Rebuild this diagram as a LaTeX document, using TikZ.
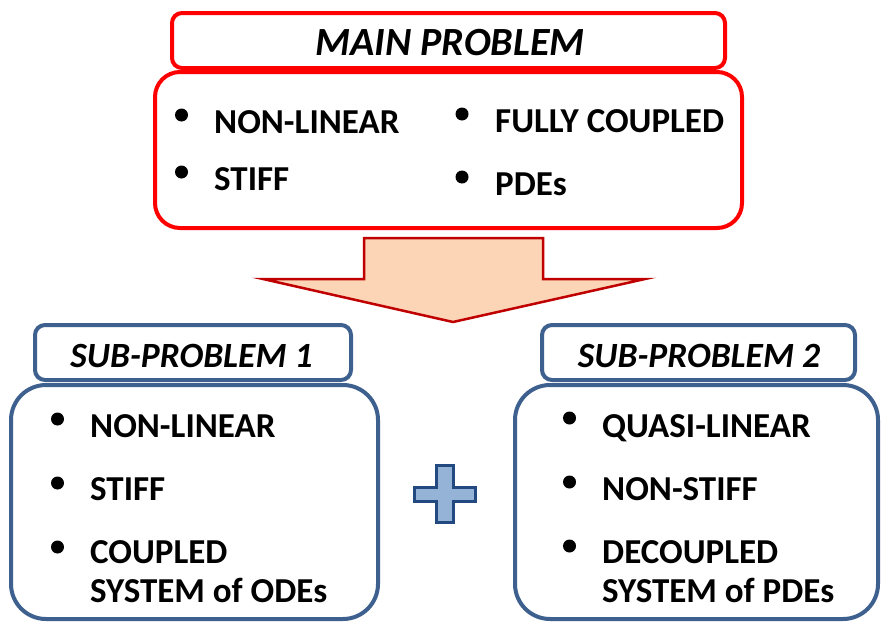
\documentclass[tikz,border=0pt]{standalone}
\usepackage{fontspec}
\setmainfont{Carlito}
\definecolor{mainred}{RGB}{255,0,0}
\definecolor{subblue}{RGB}{62,96,142}
\definecolor{arrowfill}{RGB}{251,213,181}
\definecolor{arrowline}{RGB}{192,0,0}
\definecolor{plusfill}{RGB}{149,179,215}
\definecolor{plusline}{RGB}{35,74,128}
\begin{document}
\begin{tikzpicture}[x=1pt,y=-1pt,
  redbox/.style={draw=mainred,line width=4pt,fill=white,inner sep=0pt},
  bluebox/.style={draw=subblue,line width=4pt,fill=white,inner sep=0pt},
  titletext/.style={font=\fontsize{35.5}{40}\selectfont\bfseries\itshape,inner sep=0pt,anchor=base},
  bigtitle/.style={titletext,font=\fontsize{40}{46}\selectfont\bfseries\itshape},
  itemtext/.style={font=\fontsize{35}{40}\selectfont\bfseries,inner sep=0pt,anchor=base west},
  dot/.style={circle,fill=black,inner sep=0pt,minimum size=13pt}
]
\useasboundingbox (0,0) rectangle (882,621);

% main problem: body first, title box on top
\node[redbox,rounded corners=25pt,minimum width=587pt,minimum height=156pt] (mainbody) at (448.5,150) {};
\node[redbox,rounded corners=10pt,minimum width=553pt,minimum height=55pt] (maintitle) at (448.5,40.5) {};
\node[bigtitle] (maintxt) at (450,55) {MAIN PROBLEM};

\node[dot] (mb1) at (181.5,115) {};
\node[itemtext] (mt1) at (214,133) {NON-LINEAR};
\node[dot] (mb2) at (181.5,172) {};
\node[itemtext] (mt2) at (214,190) {STIFF};
\node[dot] (mb3) at (462,114) {};
\node[itemtext] (mt3) at (495,132) {FULLY COUPLED};
\node[dot] (mb4) at (462,177) {};
\node[itemtext] (mt4) at (495,195) {PDEs};

% block arrow from the main problem down to the sub-problems
\draw[draw=arrowline,fill=arrowfill,line width=2.5pt,line join=miter]
  (364,238) -- (543,238) -- (543,279) -- (645,279) -- (453,322)
  -- (263,279) -- (364,279) -- cycle;

% sub-problem 1
\node[bluebox,rounded corners=35pt,minimum width=367pt,minimum height=234pt] (s1body) at (194.5,502) {};
\node[bluebox,rounded corners=10pt,minimum width=316pt,minimum height=55pt] (s1title) at (193,352.5) {};
\node[titletext] (s1txt) at (191.5,367) {SUB-PROBLEM 1};

\node[dot] (ab1) at (57.5,419) {};
\node[itemtext] (at1) at (90,437) {NON-LINEAR};
\node[dot] (ab2) at (57.5,483) {};
\node[itemtext] (at2) at (90,500) {STIFF};
\node[dot] (ab3) at (57.5,547) {};
\node[itemtext] (at3) at (90,563) {COUPLED};
\node[itemtext] (at4) at (90,602) {SYSTEM of ODEs};

% sub-problem 2
\node[bluebox,rounded corners=35pt,minimum width=363pt,minimum height=234pt] (s2body) at (696.5,502) {};
\node[bluebox,rounded corners=10pt,minimum width=313pt,minimum height=55pt] (s2title) at (698.5,352.5) {};
\node[titletext] (s2txt) at (699,367) {SUB-PROBLEM 2};

\node[dot] (bb1) at (569.5,418) {};
\node[itemtext] (bt1) at (602,437) {QUASI-LINEAR};
\node[dot] (bb2) at (569.5,482) {};
\node[itemtext] (bt2) at (602,500) {NON-STIFF};
\node[dot] (bb3) at (569.5,546) {};
\node[itemtext] (bt3) at (602,563) {DECOUPLED};
\node[itemtext] (bt4) at (602,602) {SYSTEM of PDEs};

% plus sign between the two sub-problems
\draw[draw=plusline,fill=plusfill,line width=3pt,line join=miter]
  (436.5,465.5) -- (453.5,465.5) -- (453.5,487.5) -- (475.5,487.5)
  -- (475.5,501.5) -- (453.5,501.5) -- (453.5,522.5) -- (436.5,522.5)
  -- (436.5,501.5) -- (414.5,501.5) -- (414.5,487.5) -- (436.5,487.5) -- cycle;
\end{tikzpicture}
\end{document}
